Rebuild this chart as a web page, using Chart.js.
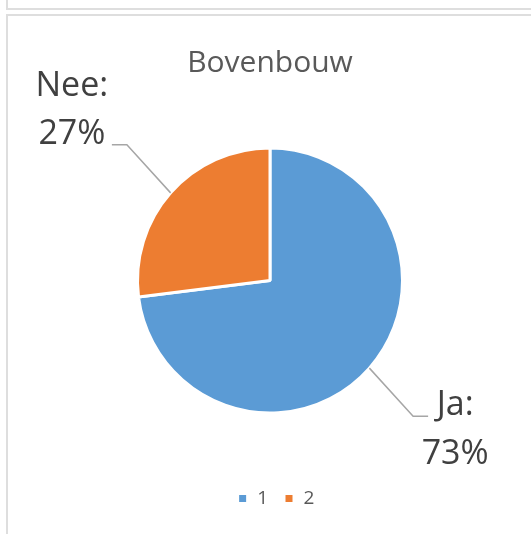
<!DOCTYPE html>
<html>
<head>
<meta charset="utf-8">
<script src="https://cdn.jsdelivr.net/npm/chart.js@4.4.1/dist/chart.umd.min.js"></script>
<style>
  html, body { margin: 0; padding: 0; background: #fff; }
  #wrap { position: relative; width: 531px; height: 534px; overflow: hidden; }
  .frame { position: absolute; border-left: 2px solid #dedede; }
  #prev { left: 6px; top: -20px; width: 600px; height: 28px; border-bottom: 2px solid #dedede; }
  #box { left: 6px; top: 14px; width: 600px; height: 600px; border-top: 2px solid #dedede; }
  canvas { position: absolute; left: 0; top: 0; }
</style>
</head>
<body>
<div id="wrap">
  <div class="frame" id="prev"></div>
  <div class="frame" id="box"></div>
  <canvas id="chart" width="531" height="534"></canvas>
</div>
<script>
// data
const categories = ['1', '2'];
const sliceNames = ['Ja', 'Nee'];
const values = [73, 27];
const colors = ['#5b9bd5', '#ed7d31'];

// leader lines + "Ja: 73%" style labels
const leaderLabels = {
  id: 'leaderLabels',
  afterDatasetsDraw(chart) {
    const ctx = chart.ctx;
    const meta = chart.getDatasetMeta(0);
    const total = values.reduce((a, b) => a + b, 0);
    meta.data.forEach((arc, i) => {
      const mid = (arc.startAngle + arc.endAngle) / 2;
      const r = arc.outerRadius;
      const x0 = arc.x + Math.cos(mid) * r;
      const y0 = arc.y + Math.sin(mid) * r;
      const x1 = arc.x + Math.cos(mid) * r * 1.44;
      const y1 = arc.y + Math.sin(mid) * r * 1.55;
      const right = Math.cos(mid) >= 0;
      const x2 = x1 + (right ? 15 : -15);
      ctx.save();
      ctx.strokeStyle = '#a6a6a6';
      ctx.lineWidth = 1.5;
      ctx.beginPath();
      ctx.moveTo(x0, y0);
      ctx.lineTo(x1, y1);
      ctx.lineTo(x2, y1);
      ctx.stroke();

      ctx.fillStyle = '#404040';
      ctx.font = '34px "Open Sans", sans-serif';
      ctx.textAlign = 'center';
      ctx.textBaseline = 'alphabetic';
      const pct = Math.round(values[i] / total * 100) + '%';
      if (right) {
        const cx = x2 + 27;
        ctx.fillText(sliceNames[i] + ':', cx, y1 - 1);
        ctx.fillText(pct, cx, y1 + 48);
      } else {
        const cx = x2 - 40;
        ctx.fillText(sliceNames[i] + ':', cx, y1 - 49);
        ctx.fillText(pct, cx, y1 - 1);
      }
      ctx.restore();
    });
  }
};

// nudge the legend a little to the right, like the original
const legendShift = {
  id: 'legendShift',
  afterLayout(chart) {
    chart.legend.left += 6;
    chart.legend.right += 6;
  }
};

new Chart(document.getElementById('chart'), {
  type: 'pie',
  data: {
    labels: categories,
    datasets: [{
      data: values,
      backgroundColor: colors,
      borderColor: '#ffffff',
      borderWidth: 3
    }]
  },
  options: {
    responsive: false,
    animation: false,
    layout: {
      padding: { left: 136, right: 127, top: 0, bottom: 16 }
    },
    plugins: {
      title: {
        display: true,
        text: 'Bovenbouw',
        color: '#595959',
        font: { family: '"Open Sans", sans-serif', size: 30, weight: 'normal' },
        padding: { top: 45, bottom: 7 }
      },
      legend: {
        position: 'bottom',
        labels: {
          color: '#595959',
          font: { family: '"Open Sans", sans-serif', size: 19 },
          boxWidth: 10,
          boxHeight: 10,
          padding: 16
        }
      },
      tooltip: { enabled: false }
    }
  },
  plugins: [leaderLabels, legendShift]
});
</script>
</body>
</html>
